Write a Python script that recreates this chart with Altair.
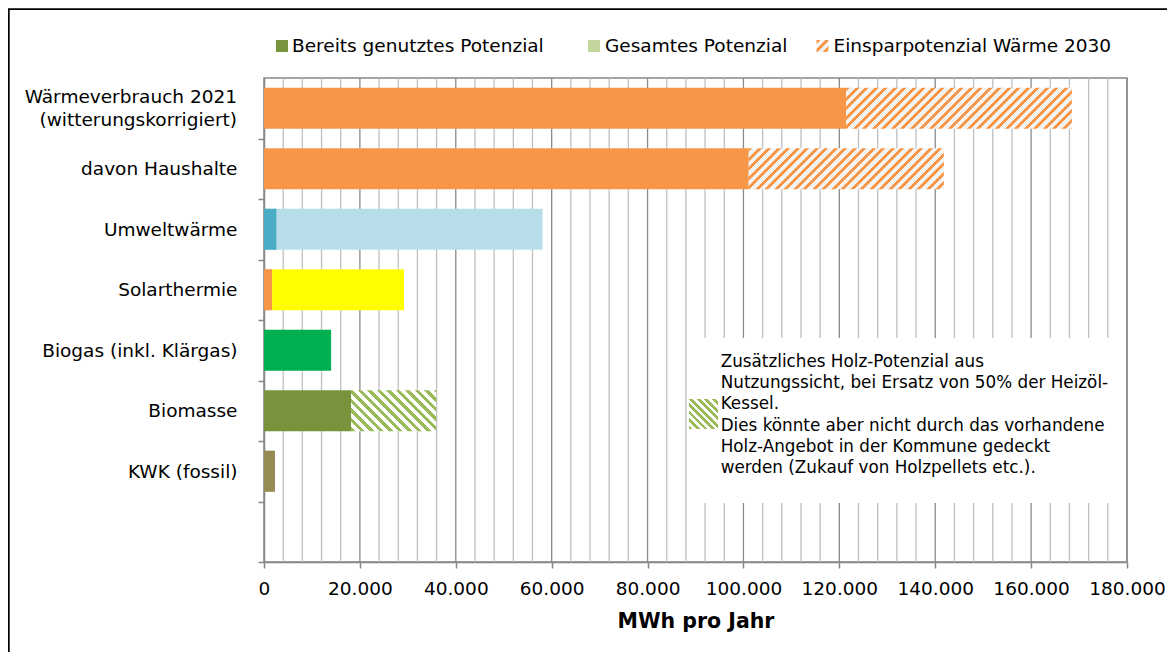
import altair as alt
import pandas as pd

# ---------------- data ----------------
kategorien = [
    "Wärmeverbrauch 2021|(witterungskorrigiert)",
    "davon Haushalte\u00a0",
    "Umweltwärme",
    "Solarthermie",
    "Biogas (inkl. Klärgas)",
    "Biomasse",
    "KWK (fossil)",
]
leer = " "
teil1 = [121400, 101100, 2650, 1700, 14000, 18150, 2300]      # end of first segment (MWh)
gesamt = [168500, 141800, 58100, 29200, 14000, 35900, 2300]   # end of whole bar (MWh)
farbe1 = ["#F79646", "#F79646", "#4BACC6", "#F79646", "#00B050", "#77933C", "#948A54"]
farbe2 = ["hatch_orange", "hatch_orange", "#B7DEE8", "#FFFF00", None, "hatch_green", None]

legend_labels = ["Bereits genutztes Potenzial", "Gesamtes Potenzial", "Einsparpotenzial Wärme 2030"]
legend_colors = ["#77933C", "#C3D69B", "hatch_orange"]

anmerkung = [
    "Zusätzliches Holz-Potenzial aus",
    "Nutzungssicht, bei Ersatz von 50% der Heizöl-",
    "Kessel.",
    "Dies könnte aber nicht durch das vorhandene",
    "Holz-Angebot in der Kommune gedeckt",
    "werden (Zukauf von Holzpellets etc.).",
]

x_max = 180000
x_ticks = list(range(0, x_max + 1, 20000))
grid_vals = list(range(4000, x_max + 1, 4000))

# ---------------- layout / style ----------------
FONT = "DejaVu Sans"
GRAY = "#878787"
W, H = 863, 484
N_BANDS = len(kategorien) + 1
PAD_IN = 0.32
STEP = H / N_BANDS
BAR_H = STEP * (1 - PAD_IN)
LABEL_LH = 23.3
LABEL_FS = 18.5
Y_TICK = 6
Y_LPAD = 21


def hatch(w, h, stripe, bg, period, frac, rising=True):
    r = h / w
    k = (1 + r) / (1 + r * r)
    if rising:
        x1, y1, x2, y2 = 0, 0, k, k * r
    else:
        x1, y1, x2, y2 = 0, 1, k, 1 - k * r
    n = (w + h) / period
    stops = []
    i = 0
    while i / n < 1:
        a = round(i / n, 5)
        b = round(min((i + frac) / n, 1), 5)
        c = round(min((i + 1) / n, 1), 5)
        stops += [{"offset": a, "color": stripe}, {"offset": b, "color": stripe}]
        if b < 1:
            stops += [{"offset": b, "color": bg}, {"offset": c, "color": bg}]
        i += 1
    return {"gradient": "linear", "x1": x1, "y1": y1, "x2": x2, "y2": y2, "stops": stops}


def hatch_for(kind, w, h, period=9.5):
    if kind == "hatch_orange":
        return hatch(w, h, "#F79646", "#F2F2F2", period, 0.42, rising=True)
    return hatch(w, h, "#9BBB59", "#FFFFFF", period, 0.5, rising=False)


xscale = alt.Scale(domain=[0, x_max], nice=False, zero=True)
x_axis = alt.Axis(
    values=x_ticks,
    labelExpr="replace(format(datum.value, ','), ',', '.')",
    grid=False,
    tickSize=6, tickColor=GRAY, tickWidth=1.5,
    domainColor=GRAY, domainWidth=1.5,
    labelFont=FONT, labelFontSize=LABEL_FS, labelColor="black", labelPadding=11,
    labelFlush=False, labelOverlap=False,
    title="MWh pro Jahr", titleFont=FONT, titleFontSize=20.5, titleFontWeight="bold",
    titleColor="black", titlePadding=14,
)
# ticks sit half-way between the bands; labels stay at the band centres.
# multi-line category labels are drawn by a separate text layer (centred block)
y_axis = alt.Axis(
    title=None,
    labelExpr="indexof(datum.label, '|') >= 0 ? '' : datum.label",
    tickBand="center",
    tickOffset=STEP / 2,
    labelOffset=-STEP / 2,
    tickSize=Y_TICK, tickColor=GRAY, tickWidth=1.5,
    domainColor=GRAY, domainWidth=1.5,
    labelFont=FONT, labelFontSize=LABEL_FS, labelColor="black", labelPadding=Y_LPAD,
    labelLimit=400,
)
y_enc = alt.Y(
    "kat:N",
    scale=alt.Scale(domain=kategorien + [leer], paddingInner=PAD_IN, paddingOuter=PAD_IN / 2),
    axis=y_axis,
)

# ---------------- layers ----------------
grid_df = pd.DataFrame({"g": grid_vals, "art": ["major" if v % 20000 == 0 else "minor" for v in grid_vals]})
grid = alt.Chart(grid_df).mark_rule(strokeWidth=1.3).encode(
    x=alt.X("g:Q", scale=xscale, axis=x_axis),
    color=alt.Color("art:N", scale=alt.Scale(domain=["minor", "major"], range=["#BFBFBF", "#8A8A8A"]), legend=None),
)

rows = []
for k, t1, g, f1, f2 in zip(kategorien, teil1, gesamt, farbe1, farbe2):
    rows.append({"kat": k, "von": 0, "bis": t1, "farbe": f1})
    if f2 is not None and not f2.startswith("hatch"):
        rows.append({"kat": k, "von": t1, "bis": g, "farbe": f2})
solid = alt.Chart(pd.DataFrame(rows)).mark_bar().encode(
    y=y_enc,
    x=alt.X("von:Q", scale=xscale, axis=x_axis),
    x2="bis:Q",
    color=alt.Color("farbe:N", scale=None),
)

hatched = []
for k, t1, g, f2 in zip(kategorien, teil1, gesamt, farbe2):
    if f2 is not None and f2.startswith("hatch"):
        w = (g - t1) / x_max * W
        hatched.append(
            alt.Chart(pd.DataFrame([{"kat": k, "von": t1, "bis": g}]))
            .mark_bar(fill=hatch_for(f2, w, BAR_H))
            .encode(y=y_enc, x=alt.X("von:Q", scale=xscale, axis=x_axis), x2="bis:Q")
        )

# multi-line category labels
multi = [k for k in kategorien if "|" in k]
multi_layers = []
for k in multi:
    lines = k.split("|")
    multi_layers.append(
        alt.Chart(pd.DataFrame([{"kat": k}])).mark_text(
            text=lines, align="right", baseline="middle", font=FONT, fontSize=LABEL_FS,
            lineHeight=LABEL_LH, color="black", dy=-(len(lines) - 1) * LABEL_LH / 2,
        ).encode(y=y_enc, x=alt.value(-(Y_TICK + Y_LPAD)))
    )

one = pd.DataFrame({"a": [0]})

box = alt.Chart(one).mark_rect(fill="white").encode(
    x=alt.value(423), x2=alt.value(861.5), y=alt.value(260), y2=alt.value(425)
)
note_sq = alt.Chart(one).mark_rect(fill=hatch_for("hatch_green", 29, 30, period=7.5)).encode(
    x=alt.value(425), x2=alt.value(454), y=alt.value(321), y2=alt.value(351)
)
note_txt = alt.Chart(one).mark_text(
    text=anmerkung, align="left", baseline="middle", font=FONT, fontSize=16.8,
    lineHeight=21.2, color="black",
).encode(x=alt.value(456.7), y=alt.value(284))

# legend (manual)
LEG_Y = -32
leg_sq_x = [12, 324, 552.5]
leg_txt_x = [28, 341, 569.5]
legend_layers = []
for lab, col, sx, tx in zip(legend_labels, legend_colors, leg_sq_x, leg_txt_x):
    fill = hatch_for(col, 12, 12, period=9) if col.startswith("hatch") else col
    legend_layers.append(
        alt.Chart(one).mark_rect(fill=fill).encode(
            x=alt.value(sx), x2=alt.value(sx + 12), y=alt.value(LEG_Y - 6), y2=alt.value(LEG_Y + 6)
        )
    )
    legend_layers.append(
        alt.Chart(one).mark_text(
            text=lab, align="left", baseline="middle", font=FONT, fontSize=LABEL_FS, color="black"
        ).encode(x=alt.value(tx), y=alt.value(LEG_Y))
    )

# outer frame (left and top edges)
frame_l = alt.Chart(one).mark_rule(color="black", strokeWidth=1.8).encode(
    x=alt.value(-255.2), y=alt.value(-69), y2=alt.value(700)
)
frame_t = alt.Chart(one).mark_rule(color="black", strokeWidth=1.8).encode(
    y=alt.value(-68.8), x=alt.value(-256), x2=alt.value(1000)
)

chart = (
    alt.layer(grid, solid, *hatched, *multi_layers, box, note_sq, note_txt, *legend_layers,
              frame_l, frame_t)
    .properties(
        width=W, height=H,
        padding={"left": 256, "top": 70, "right": 40, "bottom": 90},
        autosize=alt.AutoSizeParams(type="none"),
    )
    .configure(font=FONT)
    .configure_view(stroke=GRAY, strokeWidth=1.5)
)

chart.save("out.html", embed_options={"renderer": "svg", "actions": False})
